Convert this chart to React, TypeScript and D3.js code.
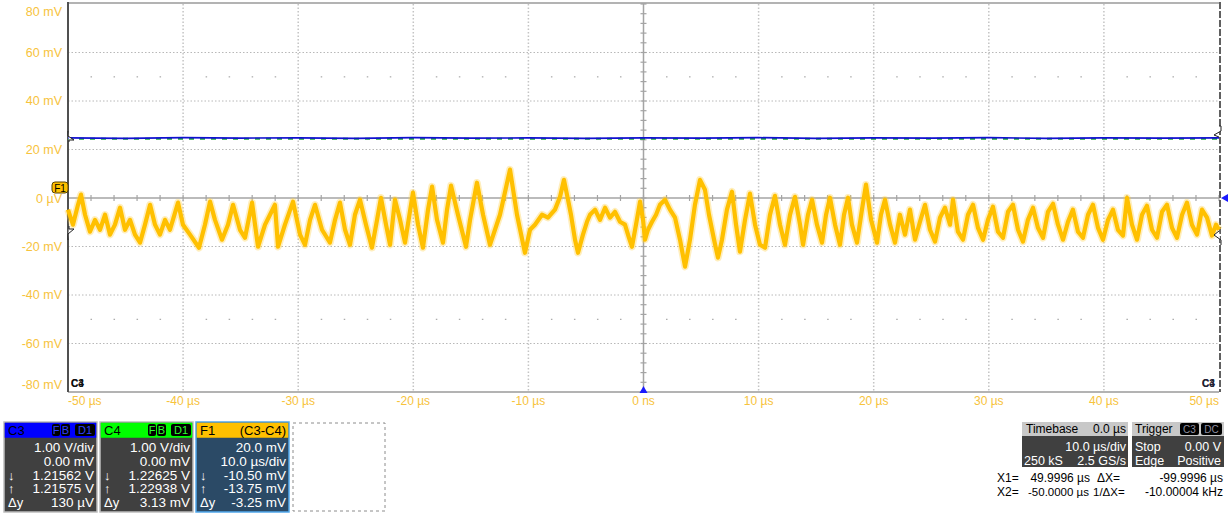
import React from "react";
import * as d3 from "d3";

// axis ticks
const xTicks = [-50, -40, -30, -20, -10, 0, 10, 20, 30, 40, 50];
const xTickLabels = ["-50 µs", "-40 µs", "-30 µs", "-20 µs", "-10 µs", "0 ns", "10 µs", "20 µs", "30 µs", "40 µs", "50 µs"];
const yTicks = [80, 60, 40, 20, 0, -20, -40, -60, -80];
const yTickLabels = ["80 mV", "60 mV", "40 mV", "20 mV", "0 µV", "-20 mV", "-40 mV", "-60 mV", "-80 mV"];

// C3 / C4 traces (µs, mV as displayed on the F1 grid)
const c3Time = [-50, -45, -40, -35, -30, -25, -20, -15, -10, -5, 0, 5, 10, 15, 20, 25, 30, 35, 40, 45, 50];
const c3Volt = [24.8, 24.6, 24.9, 24.7, 24.8, 24.6, 24.9, 24.7, 24.8, 24.6, 24.8, 24.7, 24.9, 24.6, 24.8, 24.7, 24.9, 24.6, 24.8, 24.7, 24.8];
const c4Time = [-50, -25, 0, 25, 50];
const c4Volt = [24.4, 24.4, 24.4, 24.4, 24.4];

// F1 = C3 - C4 trace, peaks and troughs
const f1Time = [
  -50.0, -49.57, -49.13, -48.87, -48.52, -48.09, -47.65, -47.22, -46.78, -46.35, -45.92, -45.48, -45.05, -44.61, -44.18,
  -43.74, -43.31, -42.87, -42.44, -42.01, -41.57, -41.14, -40.44, -40.01, -39.4, -38.62, -38.1, -37.66, -37.23, -36.62,
  -36.1, -35.66, -35.06, -34.62, -34.01, -33.49, -32.88, -32.45, -32.02, -31.75, -31.15, -30.45, -29.84, -29.41, -28.97,
  -28.54, -27.93, -27.24, -26.8, -26.37, -25.93, -25.5, -25.07, -24.63, -24.11, -23.59, -23.15, -22.81, -22.37, -22.02,
  -21.59, -21.15, -20.72, -20.03, -19.59, -19.16, -18.72, -18.37, -17.94, -17.42, -17.07, -16.72, -16.12, -15.42, -15.07,
  -14.47, -13.94, -13.34, -12.47, -11.6, -10.99, -10.3, -9.86, -9.43, -8.82, -8.3, -7.69, -7.25, -6.91, -6.56,
  -6.3, -5.95, -5.69, -5.26, -4.91, -4.65, -4.21, -3.78, -3.34, -2.91, -2.48, -2.04, -1.61, -1.26, -1.0,
  -0.65, -0.3, -0.04, 0.13, 0.39, 0.74, 1.09, 1.43, 1.87, 2.3, 2.74, 3.17, 3.61, 4.04, 4.47,
  4.91, 5.34, 5.69, 6.13, 6.47, 6.82, 7.25, 7.69, 8.04, 8.38, 8.82, 9.25, 9.69, 10.12, 10.56,
  10.99, 11.42, 11.86, 12.29, 12.73, 13.16, 13.6, 13.86, 14.29, 14.64, 15.07, 15.51, 15.86, 16.2, 16.64,
  17.07, 17.42, 17.77, 18.11, 18.55, 18.98, 19.33, 19.77, 20.29, 20.63, 20.98, 21.42, 21.85, 22.28, 22.72,
  23.15, 23.59, 24.02, 24.46, 24.89, 25.33, 25.76, 26.19, 26.63, 26.89, 27.32, 27.76, 28.19, 28.63, 29.06,
  29.5, 29.93, 30.36, 30.8, 31.23, 31.67, 32.1, 32.54, 32.97, 33.4, 33.84, 34.27, 34.71, 35.14, 35.58,
  36.01, 36.45, 36.88, 37.31, 37.75, 38.18, 38.62, 39.05, 39.49, 39.92, 40.36, 40.79, 41.22, 41.66, 42.01,
  42.44, 42.88, 43.31, 43.74, 44.18, 44.61, 45.05, 45.48, 45.92, 46.35, 46.79, 47.22, 47.65, 48.09, 48.52,
  48.96, 49.39, 49.74, 50.0,
];
const f1Volt = [
  -4.8, -11.0, -2.8, 1.4, -6.9, -13.9, -9.0, -13.1, -6.9, -15.1, -11.0, -4.0, -13.1, -9.0, -15.1,
  -18.4, -11.0, -2.8, -11.0, -15.1, -9.0, -13.1, -1.9, -11.0, -15.1, -20.5, -11.0, -1.5, -9.0, -17.2,
  -11.0, -2.8, -13.1, -16.4, -1.9, -20.1, -11.0, -6.9, -2.8, -20.1, -11.0, -1.5, -15.1, -19.3, -9.0,
  -2.8, -13.1, -18.4, -9.0, -1.9, -13.1, -19.3, -6.9, -0.7, -11.0, -20.5, -9.0, 0.1, -11.0, -19.3,
  -0.7, -9.0, -18.4, 2.2, -11.0, -20.5, -4.8, 4.7, -9.0, -18.4, -4.8, 5.1, -6.9, -20.1, -9.0,
  6.3, -6.9, -19.3, -6.9, 11.7, -6.9, -22.6, -13.1, -11.0, -6.9, -8.1, -4.8, 0.5, 7.5, -0.7,
  -6.9, -17.2, -22.6, -15.1, -9.8, -6.9, -4.8, -9.0, -4.0, -8.1, -5.7, -9.8, -11.0, -16.4, -20.1,
  -11.0, -1.5, -9.0, -17.2, -13.1, -9.8, -6.9, -2.8, -0.7, -4.8, -8.1, -17.2, -28.3, -17.2, -2.8,
  7.5, 3.4, -6.9, -17.2, -24.6, -17.2, -4.8, 2.6, -11.0, -22.1, -9.0, 1.8, -11.0, -19.3, -20.5,
  -6.9, 0.9, -11.0, -19.3, -6.9, 0.5, -11.0, -19.3, -6.9, -0.7, -11.0, -18.4, -6.9, 0.1, -11.0,
  -19.3, -6.9, 0.1, -11.0, -18.4, -4.8, 5.5, -9.0, -18.4, -6.9, -0.7, -11.0, -18.4, -6.9, -15.1,
  -4.8, -17.2, -9.8, -2.8, -13.1, -18.0, -8.1, -4.0, -11.0, -0.7, -13.9, -17.2, -6.9, -2.8, -12.3,
  -17.2, -9.0, -3.6, -13.9, -16.4, -5.7, -2.8, -13.1, -18.0, -9.0, -4.0, -12.3, -16.4, -5.7, -2.4,
  -11.0, -17.2, -9.8, -4.8, -13.9, -16.4, -6.9, -2.8, -12.3, -17.2, -9.0, -4.8, -13.1, -15.5, 0.1,
  -11.0, -17.2, -6.9, -3.2, -13.1, -16.4, -5.7, -2.8, -12.3, -16.4, -6.9, -1.9, -11.0, -15.1, -4.8,
  -8.1, -15.5, -11.0, -13.1,
];

// readout panels
const c3Rows = [["", "1.00 V/div"], ["", "0.00 mV"], ["↓", "1.21562 V"], ["↑", "1.21575 V"], ["Δy", "130 µV"]];
const c4Rows = [["", "1.00 V/div"], ["", "0.00 mV"], ["↓", "1.22625 V"], ["↑", "1.22938 V"], ["Δy", "3.13 mV"]];
const f1Rows = [["", "20.0 mV"], ["", "10.0 µs/div"], ["↓", "-10.50 mV"], ["↑", "-13.75 mV"], ["Δy", "-3.25 mV"]];

const W = 1230;
const H = 513;
const FONT = "'Liberation Sans', Arial, sans-serif";
const YEL = "#ffc000";
const LABEL = "#f7c33c";

function Badge({ x, y, w, text, color }: { x: number; y: number; w: number; text: string; color: string }) {
  return (
    <g>
      <rect x={x} y={y} width={w} height={12} rx={2} fill="#000" />
      <text x={x + w / 2} y={y + 10} textAnchor="middle" fontSize={11} fill={color}>{text}</text>
    </g>
  );
}

function ChannelBox({ x, title, right, head, body, border, rows, titleColor, badges }: any) {
  const top = 422;
  const w = 93;
  return (
    <g fontFamily={FONT}>
      <rect x={x} y={top} width={w} height={90} fill={body} stroke={border} strokeWidth={1.5} />
      <rect x={x + 0.75} y={top + 0.75} width={w - 1.5} height={15} fill={head} />
      <text x={x + 4} y={top + 12.5} fontSize={13} fill={titleColor}>{title}</text>
      {right && <text x={x + w - 3} y={top + 12.5} fontSize={13} textAnchor="end" fill="#000">{right}</text>}
      {badges}
      {rows.map((r: string[], i: number) => (
        <g key={i}>
          <text x={x + 4} y={top + 30 + i * 13.8} fontSize={13} fill="#fff">{r[0]}</text>
          <text x={x + w - 3} y={top + 30 + i * 13.8} fontSize={13.5} textAnchor="end" fill="#fff">{r[1]}</text>
        </g>
      ))}
    </g>
  );
}

export default function App() {
  const left = 68, right = 1219, top = 4, bottom = 392;
  const x = d3.scaleLinear().domain([-50, 50]).range([left, right]);
  const y = d3.scaleLinear().domain([-80, 80]).range([bottom, top]);

  const line = d3.line<[number, number]>().x((d) => x(d[0])).y((d) => y(d[1]));
  const f1Path = line(f1Time.map((t, i) => [t, f1Volt[i]]) as [number, number][]) || "";
  const c3Path = line(c3Time.map((t, i) => [t, c3Volt[i]]) as [number, number][]) || "";
  const c4Path = line(c4Time.map((t, i) => [t, c4Volt[i]]) as [number, number][]) || "";

  const minorX = d3.range(-50, 50.01, 2);
  const minorY = d3.range(-80, 80.01, 4);

  return (
    <svg width={W} height={H} style={{ position: "absolute", left: 0, top: 0, background: "#fff" }} fontFamily={FONT}>
      {/* grid */}
      {yTicks.filter((v) => v !== 0 && Math.abs(v) !== 80).map((v) => (
        <line key={"gy" + v} x1={left} x2={right} y1={y(v)} y2={y(v)} stroke="#b8b8b8" strokeWidth={1} strokeDasharray="1.5 2" />
      ))}
      {xTicks.filter((v) => v !== 0 && Math.abs(v) !== 50).map((v) => (
        <line key={"gx" + v} x1={x(v)} x2={x(v)} y1={top} y2={bottom} stroke="#c4c4c4" strokeWidth={1.5} strokeDasharray="1.5 2" />
      ))}
      {/* dotted rows at +/-50 mV */}
      {[50, -50].map((v) =>
        minorX.filter((t) => Math.abs(t) % 10 !== 0).map((t) => (
          <rect key={"d" + v + t} x={x(t) - 0.5} y={y(v) - 0.5} width={1.5} height={1.2} fill="#a8a8a8" />
        ))
      )}
      {/* center axes */}
      <line x1={left} x2={right} y1={y(0)} y2={y(0)} stroke="#a4a4a4" strokeWidth={1.5} />
      <line x1={x(0)} x2={x(0)} y1={top} y2={bottom} stroke="#a4a4a4" strokeWidth={1.5} />
      {minorX.map((t) => (
        <line key={"mx" + t} x1={x(t)} x2={x(t)} y1={y(0) - 3} y2={y(0) + 3} stroke="#a4a4a4" strokeWidth={1.2} />
      ))}
      {minorY.map((v) => (
        <line key={"my" + v} x1={x(0) - 3} x2={x(0) + 3} y1={y(v)} y2={y(v)} stroke="#a4a4a4" strokeWidth={1.2} />
      ))}

      {/* frame */}
      <line x1={left} x2={right} y1={top - 1} y2={top - 1} stroke="#9a9a9a" strokeWidth={1.5} />
      <line x1={left} x2={right} y1={bottom} y2={bottom} stroke="#9a9a9a" strokeWidth={1.5} />
      <line x1={left} x2={left} y1={top - 2} y2={bottom} stroke="#505050" strokeWidth={2} />
      <line x1={right + 1} x2={right + 1} y1={top - 2} y2={bottom} stroke="#606060" strokeWidth={2} strokeDasharray="7 2" />

      {/* traces */}
      <path d={c4Path} fill="none" stroke="#1aa83a" strokeWidth={2} strokeDasharray="5 6" />
      <path d={c3Path} fill="none" stroke="#1010d0" strokeWidth={1.6} />
      <path d={f1Path} fill="none" stroke="#ffcf40" strokeWidth={7.5} strokeOpacity={0.35} strokeLinejoin="round" />
      <path d={f1Path} fill="none" stroke={YEL} strokeWidth={4.2} strokeLinejoin="round" />

      {/* y labels */}
      {yTicks.map((v, i) => (
        <text key={"yl" + v} x={left - 6} y={Math.min(Math.max(y(v), 12), 385) + (v === 0 ? 5 : 4)} textAnchor="end" fontSize={12.5} fill={LABEL}>
          {yTickLabels[i]}
        </text>
      ))}
      {/* x labels */}
      {xTicks.map((v, i) => (
        <text key={"xl" + v} x={v === -50 ? left : v === 50 ? right : x(v)} y={405}
          textAnchor={v === -50 ? "start" : v === 50 ? "end" : "middle"} fontSize={12} fill={LABEL}>
          {xTickLabels[i]}
        </text>
      ))}

      {/* offset markers */}
      <path d={`M${left},131 L${left},136 L${left + 6},140 L${left + 1},140 L${left + 1},142`} fill="#fff" stroke="#222" strokeWidth={1} />
      <path d={`M${left},240 L${left},234 L${left + 6},229 L${left + 1},229 L${left + 1},226`} fill="#fff" stroke="#222" strokeWidth={1} />
      <path d={`M${right},126 L${right + 2},126 L${right + 2},131 L${right - 5},135 L${right},137`} fill="#fff" stroke="#222" strokeWidth={1} />
      <path d={`M${right},231 L${right - 5},235 L${right + 2},240 L${right + 2},245`} fill="#fff" stroke="#222" strokeWidth={1} />
      <path d={`M${right + 2},${y(0)} L${right + 9},${y(0) - 4} L${right + 9},${y(0) + 4} Z`} fill="#1a1aff" />
      <path d={`M${x(0)},${bottom - 6} L${x(0) - 4},${bottom + 1} L${x(0) + 4},${bottom + 1} Z`} fill="#1a1aff" />

      {/* F1 badge */}
      <rect x={52} y={182} width={16} height={11} rx={3} fill={YEL} stroke="#5a4400" strokeWidth={1} />
      <text x={60} y={191.5} textAnchor="middle" fontSize={10} fill="#000">F1</text>

      {/* C3/C4 bottom corner tags */}
      <text x={71} y={387} fontSize={10} fontWeight="bold" fill="#111">C4</text>
      <text x={71} y={387} fontSize={10} fontWeight="bold" fill="#111">C3</text>
      <text x={1202} y={387} fontSize={10} fontWeight="bold" fill="#223">C4</text>
      <text x={1202} y={387} fontSize={10} fontWeight="bold" fill="#223">C3</text>

      {/* channel panels */}
      <ChannelBox x={4} title="C3" head="#0000ff" body="#404040" border="#bdbdbd" rows={c3Rows} titleColor="#000"
        badges={<g><Badge x={52} y={424} w={8} text="F" color="#3040ff" /><Badge x={61} y={424} w={9} text="B" color="#3040ff" /><Badge x={75} y={424} w={20} text="D1" color="#3040ff" /></g>} />
      <ChannelBox x={100} title="C4" head="#00ff00" body="#404040" border="#bdbdbd" rows={c4Rows} titleColor="#000"
        badges={<g><Badge x={148} y={424} w={8} text="F" color="#30ff30" /><Badge x={157} y={424} w={9} text="B" color="#30ff30" /><Badge x={171} y={424} w={20} text="D1" color="#30ff30" /></g>} />
      <ChannelBox x={196} title="F1" right="(C3-C4)" head={YEL} body="#2b4a66" border="#52a8ec" rows={f1Rows} titleColor="#000" />
      <rect x={293} y={423} width={92} height={88} fill="none" stroke="#8c8c8c" strokeWidth={1} strokeDasharray="3 3" />

      {/* timebase / trigger */}
      <g fontSize={12}>
        <rect x={1022} y={422} width={106} height={45} fill="#404040" />
        <rect x={1022} y={422} width={106} height={14} fill="#c8c8c8" />
        <text x={1026} y={433}>Timebase</text>
        <text x={1126} y={433} textAnchor="end">0.0 µs</text>
        <text x={1126} y={451} textAnchor="end" fill="#fff" fontSize={12.5}>10.0 µs/div</text>
        <text x={1024} y={465} fill="#fff" fontSize={12.5}>250 kS</text>
        <text x={1126} y={465} textAnchor="end" fill="#fff" fontSize={12.5}>2.5 GS/s</text>

        <rect x={1132} y={422} width={92} height={45} fill="#404040" />
        <rect x={1132} y={422} width={92} height={14} fill="#c8c8c8" />
        <text x={1135} y={433}>Trigger</text>
        <rect x={1180} y={423} width={19} height={12} rx={2} fill="#000" />
        <text x={1189.5} y={433} textAnchor="middle" fontSize={10} fill="#9090a0">C3</text>
        <rect x={1201} y={423} width={21} height={12} rx={2} fill="#000" />
        <text x={1211.5} y={433} textAnchor="middle" fontSize={10} fill="#9090a0">DC</text>
        <text x={1135} y={451} fill="#fff" fontSize={12.5}>Stop</text>
        <text x={1221} y={451} textAnchor="end" fill="#fff" fontSize={12.5}>0.00 V</text>
        <text x={1135} y={465} fill="#fff" fontSize={12.5}>Edge</text>
        <text x={1221} y={465} textAnchor="end" fill="#fff" fontSize={12.5}>Positive</text>

        <text x={997} y={482}>X1=</text>
        <text x={1090} y={482} textAnchor="end">49.9996 µs</text>
        <text x={1120} y={482} textAnchor="end">ΔX=</text>
        <text x={1223} y={482} textAnchor="end">-99.9996 µs</text>
        <text x={997} y={496}>X2=</text>
        <text x={1089} y={496} textAnchor="end" fontSize={11.5}>-50.0000 µs</text>
        <text x={1093} y={496} fontSize={11.5}>1/ΔX=</text>
        <text x={1223} y={496} textAnchor="end">-10.00004 kHz</text>
      </g>
    </svg>
  );
}
